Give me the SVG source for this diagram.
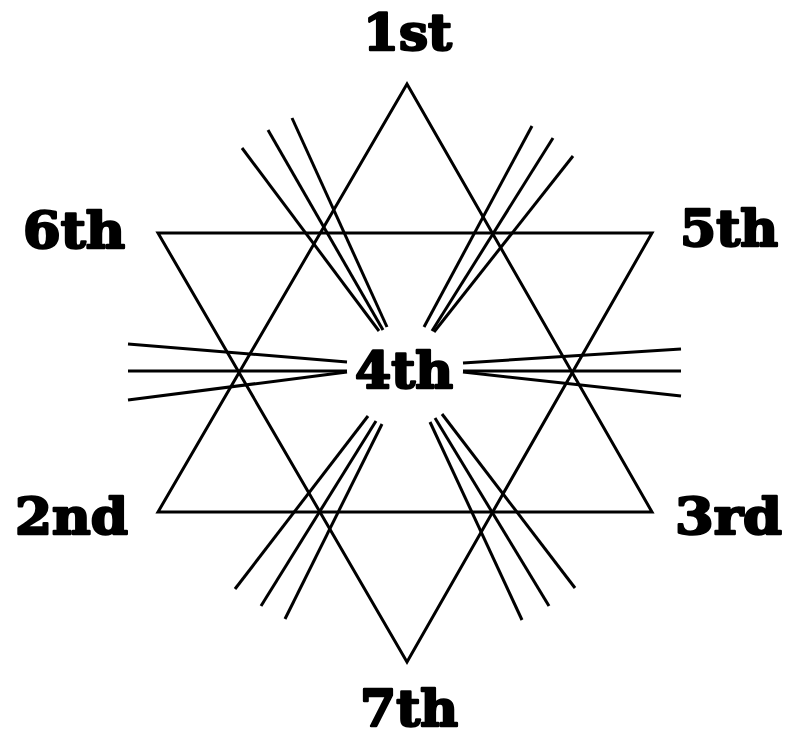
<svg xmlns="http://www.w3.org/2000/svg" width="792" height="738" viewBox="0 0 792 738">
<style>
.l{stroke:#000;stroke-width:3;fill:none;stroke-linecap:butt}
.t{font-family:"DejaVu Serif","Liberation Serif",serif;font-weight:bold;font-size:50px;fill:#000;stroke:#000;stroke-width:2.4;stroke-linejoin:round;text-anchor:start}
</style>
<rect width="792" height="738" fill="#fff"/>
<g id="triangles">
<polygon id="tri-up" class="l" points="407,84 158,512 652,512"/>
<polygon id="tri-down" class="l" points="158,233 652,233 407,662"/>
</g>
<g id="connectors">
<line class="l" x1="242" y1="148" x2="379" y2="331"/>
<line class="l" x1="268" y1="130" x2="383" y2="330"/>
<line class="l" x1="292" y1="118" x2="387" y2="327"/>
<line class="l" x1="532" y1="126" x2="424" y2="327"/>
<line class="l" x1="553" y1="138" x2="432" y2="331"/>
<line class="l" x1="573" y1="156" x2="434" y2="332"/>
<line class="l" x1="128" y1="344" x2="347" y2="362"/>
<line class="l" x1="128" y1="371" x2="347" y2="371"/>
<line class="l" x1="128" y1="400" x2="347" y2="372"/>
<line class="l" x1="681" y1="349" x2="463" y2="363"/>
<line class="l" x1="681" y1="371" x2="463" y2="371"/>
<line class="l" x1="681" y1="396" x2="463" y2="372"/>
<line class="l" x1="368" y1="416" x2="235" y2="589"/>
<line class="l" x1="376" y1="421" x2="261" y2="606"/>
<line class="l" x1="382" y1="424" x2="285" y2="619"/>
<line class="l" x1="430" y1="422" x2="522" y2="620"/>
<line class="l" x1="435" y1="418" x2="549" y2="606"/>
<line class="l" x1="442" y1="414" x2="575" y2="588"/>
</g>
<g id="n1"><text class="t" x="363" y="50" textLength="89" lengthAdjust="spacingAndGlyphs">1st</text></g>
<g id="n6"><text class="t" x="23" y="248" textLength="102" lengthAdjust="spacingAndGlyphs">6th</text></g>
<g id="n5"><text class="t" x="680" y="246" textLength="98" lengthAdjust="spacingAndGlyphs">5th</text></g>
<g id="n4"><text class="t" x="355" y="388" textLength="98" lengthAdjust="spacingAndGlyphs">4th</text></g>
<g id="n2"><text class="t" x="15" y="534" textLength="113" lengthAdjust="spacingAndGlyphs">2nd</text></g>
<g id="n3"><text class="t" x="675" y="534" textLength="107" lengthAdjust="spacingAndGlyphs">3rd</text></g>
<g id="n7"><text class="t" x="360" y="726" font-size="48" textLength="98" lengthAdjust="spacingAndGlyphs">7th</text></g>
</svg>
